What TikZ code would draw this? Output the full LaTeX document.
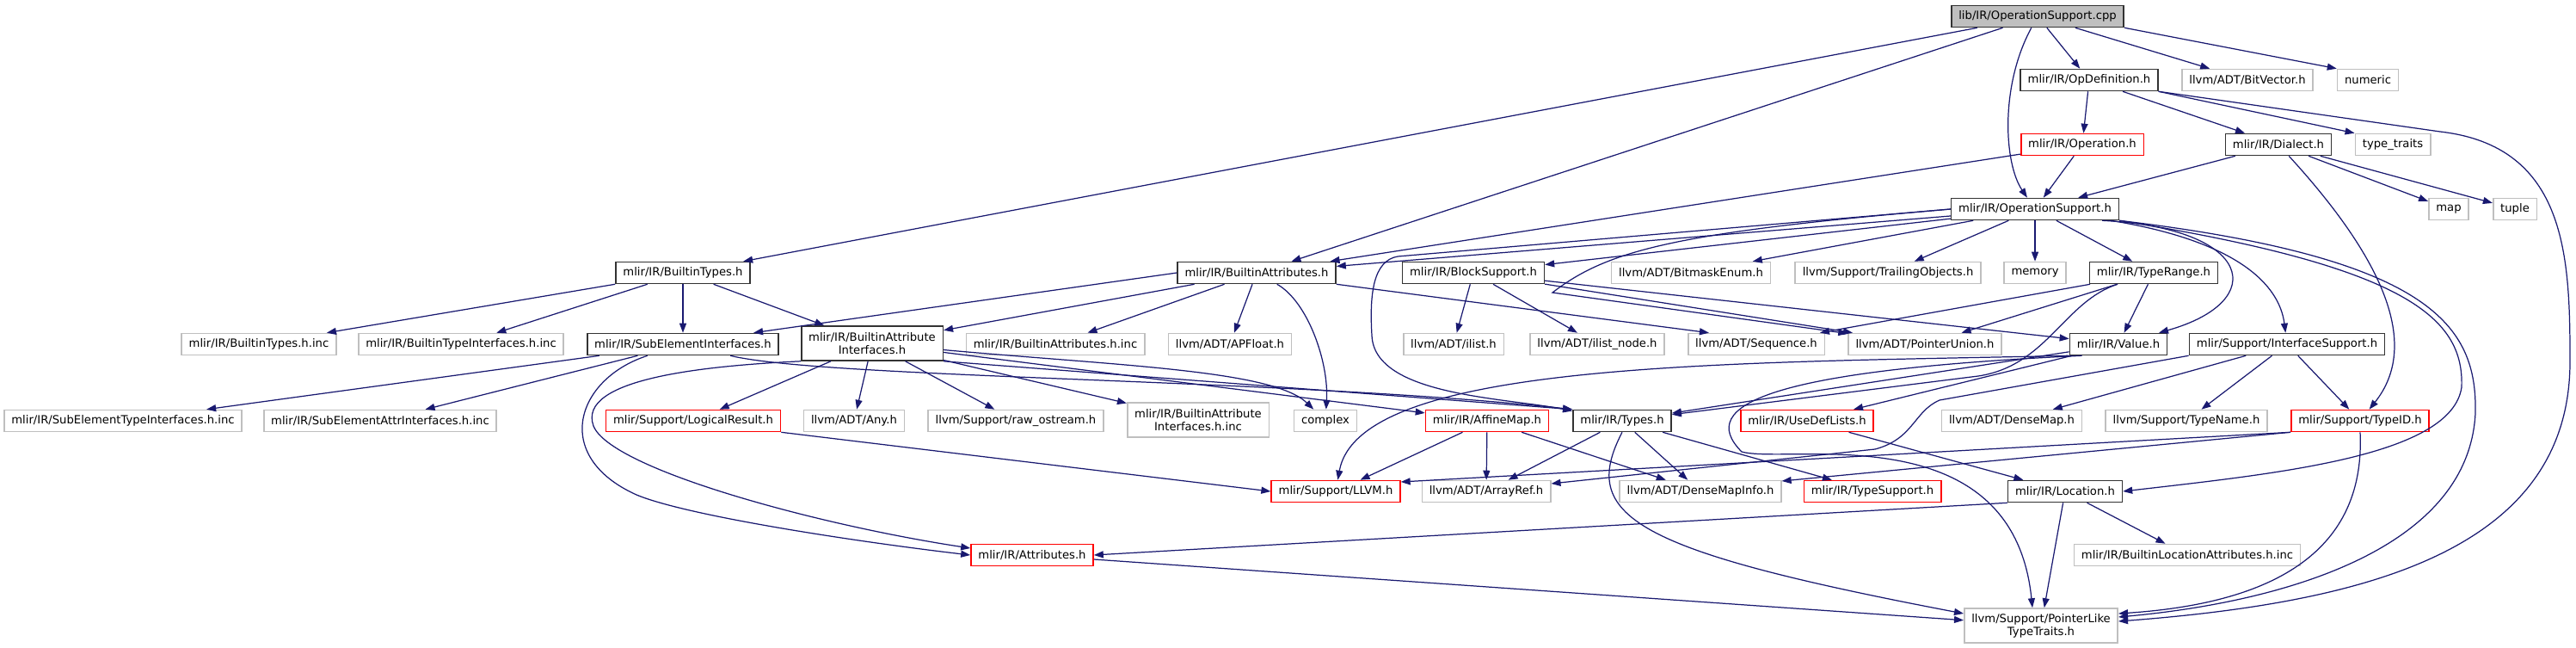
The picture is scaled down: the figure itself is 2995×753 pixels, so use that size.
\documentclass[tikz,border=0pt]{standalone}
\usepackage{fontspec}
\setmainfont{DejaVu Sans}
\usetikzlibrary{arrows.meta}
\definecolor{edgeblue}{RGB}{25,25,112}
\definecolor{extgray}{RGB}{191,191,191}
\definecolor{rootgray}{RGB}{191,191,191}
\definecolor{truncred}{RGB}{255,0,0}

\begin{document}
\begin{tikzpicture}[
  x=0.02cm, y=-0.02cm,
  >={Triangle[length=2.2mm, width=1.6mm]},
  box/.style   = {draw, line width=0.9pt, fill=white, align=center,
                  font=\fontsize{7.5}{8.5}\selectfont,
                  inner xsep=1.7mm, inner ysep=0pt, minimum height=5mm},
  doc/.style   = {box, draw=black!80},
  ext/.style   = {box, draw=extgray},
  trunc/.style = {box, draw=truncred},
  root/.style  = {doc, fill=rootgray},
  tall/.style  = {minimum height=8mm},
  dep/.style   = {->, edgeblue, line width=0.7pt},
]
\useasboundingbox (0,0) rectangle (2995,753);

%% ---- top: the source file and what it pulls in -------------------------
\node[root]  (cpp)        at (2369,19)  {lib/IR/OperationSupport.cpp};
\node[doc]   (opdef)      at (2429,93)  {mlir/IR/OpDefinition.h};
\node[ext]   (bitvec)     at (2613,93)  {llvm/ADT/BitVector.h};
\node[ext]   (numeric)    at (2753,93)  {numeric};
\node[trunc] (operation)  at (2421,168) {mlir/IR/Operation.h};
\node[doc]   (dialect)    at (2649,168) {mlir/IR/Dialect.h};
\node[ext]   (typetraits) at (2782,168) {type\_traits};
\node[doc]   (opsupport)  at (2366,243) {mlir/IR/OperationSupport.h};
\node[ext]   (map)        at (2847,243) {map};
\node[ext]   (tuple)      at (2924,243) {tuple};

%% ---- row of the big headers ---------------------------------------------
\node[doc]   (builtintypes) at (794,317)  {mlir/IR/BuiltinTypes.h};
\node[doc]   (builtinattrs) at (1461,317) {mlir/IR/BuiltinAttributes.h};
\node[doc]   (blocksupport) at (1713,317) {mlir/IR/BlockSupport.h};
\node[ext]   (bitmask)      at (1966,317) {llvm/ADT/BitmaskEnum.h};
\node[ext]   (trailing)     at (2195,317) {llvm/Support/TrailingObjects.h};
\node[ext]   (memory)       at (2366,317) {memory};
\node[doc]   (typerange)    at (2504,317) {mlir/IR/TypeRange.h};

%% ---- middle rows ----------------------------------------------------------
\node[ext]   (builtintypesinc)  at (301,400)  {mlir/IR/BuiltinTypes.h.inc};
\node[ext]   (builtintypeifinc) at (536,400)  {mlir/IR/BuiltinTypeInterfaces.h.inc};
\node[doc]   (subelem)          at (794,400)  {mlir/IR/SubElementInterfaces.h};
\node[doc, tall] (builtinattrif) at (1014,399) {mlir/IR/BuiltinAttribute\\Interfaces.h};
\node[ext]   (builtinattrsinc)  at (1227,400) {mlir/IR/BuiltinAttributes.h.inc};
\node[ext]   (apfloat)          at (1430,400) {llvm/ADT/APFloat.h};
\node[ext]   (ilist)            at (1690,400) {llvm/ADT/ilist.h};
\node[ext]   (ilistnode)        at (1857,400) {llvm/ADT/ilist\_node.h};
\node[ext]   (sequence)         at (2042,400) {llvm/ADT/Sequence.h};
\node[ext]   (pointerunion)     at (2238,400) {llvm/ADT/PointerUnion.h};
\node[doc]   (value)            at (2463,400) {mlir/IR/Value.h};
\node[doc]   (ifsupport)        at (2659,400) {mlir/Support/InterfaceSupport.h};

\node[ext]   (subeltypeinc)  at (143,489)  {mlir/IR/SubElementTypeInterfaces.h.inc};
\node[ext]   (subelattrinc)  at (442,489)  {mlir/IR/SubElementAttrInterfaces.h.inc};
\node[trunc] (logicalresult) at (806,489)  {mlir/Support/LogicalResult.h};
\node[ext]   (any)           at (993,489)  {llvm/ADT/Any.h};
\node[ext]   (rawostream)    at (1181,489) {llvm/Support/raw\_ostream.h};
\node[ext, tall] (builtinattrifinc) at (1393,488) {mlir/IR/BuiltinAttribute\\Interfaces.h.inc};
\node[ext]   (complex)       at (1541,489) {complex};
\node[trunc] (affinemap)     at (1729,489) {mlir/IR/AffineMap.h};
\node[doc]   (types)         at (1886,489) {mlir/IR/Types.h};
\node[trunc] (usedef)        at (2101,489) {mlir/IR/UseDefLists.h};
\node[ext]   (densemap)      at (2339,489) {llvm/ADT/DenseMap.h};
\node[ext]   (typename)      at (2542,489) {llvm/Support/TypeName.h};
\node[trunc] (typeid)        at (2744,489) {mlir/Support/TypeID.h};

%% ---- bottom rows ----------------------------------------------------------
\node[trunc] (llvmh)         at (1553,571) {mlir/Support/LLVM.h};
\node[ext]   (arrayref)      at (1728,571) {llvm/ADT/ArrayRef.h};
\node[ext]   (densemapinfo)  at (1977,571) {llvm/ADT/DenseMapInfo.h};
\node[trunc] (typesupport)   at (2177,571) {mlir/IR/TypeSupport.h};
\node[doc]   (location)      at (2401,571) {mlir/IR/Location.h};
\node[trunc] (attributes)    at (1200,645) {mlir/IR/Attributes.h};
\node[ext]   (builtinlocinc) at (2543,645) {mlir/IR/BuiltinLocationAttributes.h.inc};
\node[ext, tall] (pointerlike) at (2373,727) {llvm/Support/PointerLike\\TypeTraits.h};

%% ---- straight includes -----------------------------------------------------
\foreach \a/\b in {cpp/builtintypes, cpp/builtinattrs, cpp/opdef, cpp/bitvec,
    opdef/operation, opdef/dialect, operation/opsupport, operation/builtinattrs,
    dialect/opsupport, dialect/map, dialect/tuple,
    opsupport/builtinattrs, opsupport/blocksupport, opsupport/bitmask,
    opsupport/trailing, opsupport/memory, opsupport/typerange,
    builtintypes/builtintypesinc, builtintypes/builtintypeifinc,
    builtintypes/subelem, builtintypes/builtinattrif,
    builtinattrs/builtinattrif, builtinattrs/builtinattrsinc, builtinattrs/apfloat,
    blocksupport/ilist, blocksupport/ilistnode, blocksupport/pointerunion,
    blocksupport/value, typerange/sequence, typerange/pointerunion, typerange/value,
    subelem/subeltypeinc, subelem/subelattrinc,
    builtinattrif/logicalresult, builtinattrif/any, builtinattrif/rawostream,
    builtinattrif/builtinattrifinc, builtinattrif/affinemap,
    value/types, value/usedef, ifsupport/densemap, ifsupport/typename, ifsupport/typeid,
    affinemap/llvmh, affinemap/arrayref, affinemap/densemapinfo,
    types/arrayref, types/densemapinfo, types/typesupport,
    usedef/location, location/builtinlocinc, location/pointerlike, attributes/pointerlike}
  \draw[dep] (\a) -- (\b);

%% ---- routed includes -------------------------------------------------------
\draw[dep] (cpp.south east) -- (numeric.north west);
\draw[dep] (cpp) .. controls (2325,100) and (2330,190) .. (opsupport);
\draw[dep] (opdef.south east) -- (typetraits.north west);
\draw[dep] (opdef.south east) -- (2837,153) .. controls (2985,170) and (2988,300) .. (2988,420)
  .. controls (2988,640) and (2750,700) .. ([yshift=0.1cm]pointerlike.east);
\draw[dep] (dialect) .. controls (2770,300) and (2815,400) .. (typeid);

\draw[dep] (opsupport.west) -- (1625,298) .. controls (1597,303) and (1592,340) .. (1595,390)
  .. controls (1598,460) and (1750,462) .. (types);
\draw[dep] (opsupport.west) .. controls (1950,270) and (1870,290) .. (1805,340) -- (pointerunion);
\draw[dep] ([xshift=-0.4cm]opsupport.south east) .. controls (2620,265) and (2640,350) .. (value);
\draw[dep] ([xshift=-0.2cm]opsupport.south east) .. controls (2600,280) and (2650,330) .. (ifsupport);
\draw[dep] (opsupport.south east) .. controls (2800,310) and (2865,370) .. (2862,450)
  .. controls (2850,530) and (2650,550) .. (location.east);
\draw[dep] (opsupport.south east) .. controls (2830,300) and (2880,380) .. (2878,480)
  .. controls (2870,640) and (2650,700) .. ([yshift=0.2cm]pointerlike.east);

\draw[dep] (builtinattrs.west) -- ([xshift=-0.6cm]subelem.north east);
\draw[dep] (builtinattrs.south east) -- ([xshift=0.5cm]sequence.north west);
\draw[dep] (builtinattrs) .. controls (1520,350) and (1545,420) .. (complex);
\draw[dep] (typerange) .. controls (2400,350) and (2380,425) .. (2300,437) -- (types);

\draw[dep] (subelem) .. controls (960,440) and (1500,440) .. (types.north west);
\draw[dep] (subelem) .. controls (670,440) and (640,530) .. (740,575)
  .. controls (800,600) and (1000,630) .. (attributes.west);
\draw[dep] (builtinattrif.south east) -- (types.north west);
\draw[dep] (builtinattrif) .. controls (1300,425) and (1480,430) .. (complex);
\draw[dep] (builtinattrif.south west) .. controls (820,425) and (670,440) .. (690,495)
  .. controls (710,545) and (950,610) .. ([yshift=0.16cm]attributes.west);
\draw[dep] (logicalresult.south east) -- (llvmh.west);

\draw[dep] (value.south west) .. controls (2000,422) and (1580,420) .. (llvmh);
\draw[dep] ([xshift=0.3cm]value.south west) .. controls (2060,430) and (1970,470) .. (2025,525)
  .. controls (2080,540) and (2340,480) .. ([xshift=-0.2cm]pointerlike.north);
\draw[dep] (ifsupport.south west) -- (2255,465) .. controls (2225,478) and (2225,510) .. (2180,522)
  -- ([yshift=0.18cm]arrayref.east);

\draw[dep] (types.south) .. controls (1835,600) and (1900,640) .. ([yshift=0.28cm]pointerlike.west);
\draw[dep] (typeid.south) .. controls (2750,630) and (2660,700) .. ([yshift=0.28cm]pointerlike.east);
\draw[dep] (typeid.south west) -- ([yshift=0.22cm]llvmh.east);
\draw[dep] (typeid.south west) -- ([yshift=0.24cm]densemapinfo.east);
\draw[dep] (location.south west) -- (attributes.east);

\end{tikzpicture}
\end{document}
